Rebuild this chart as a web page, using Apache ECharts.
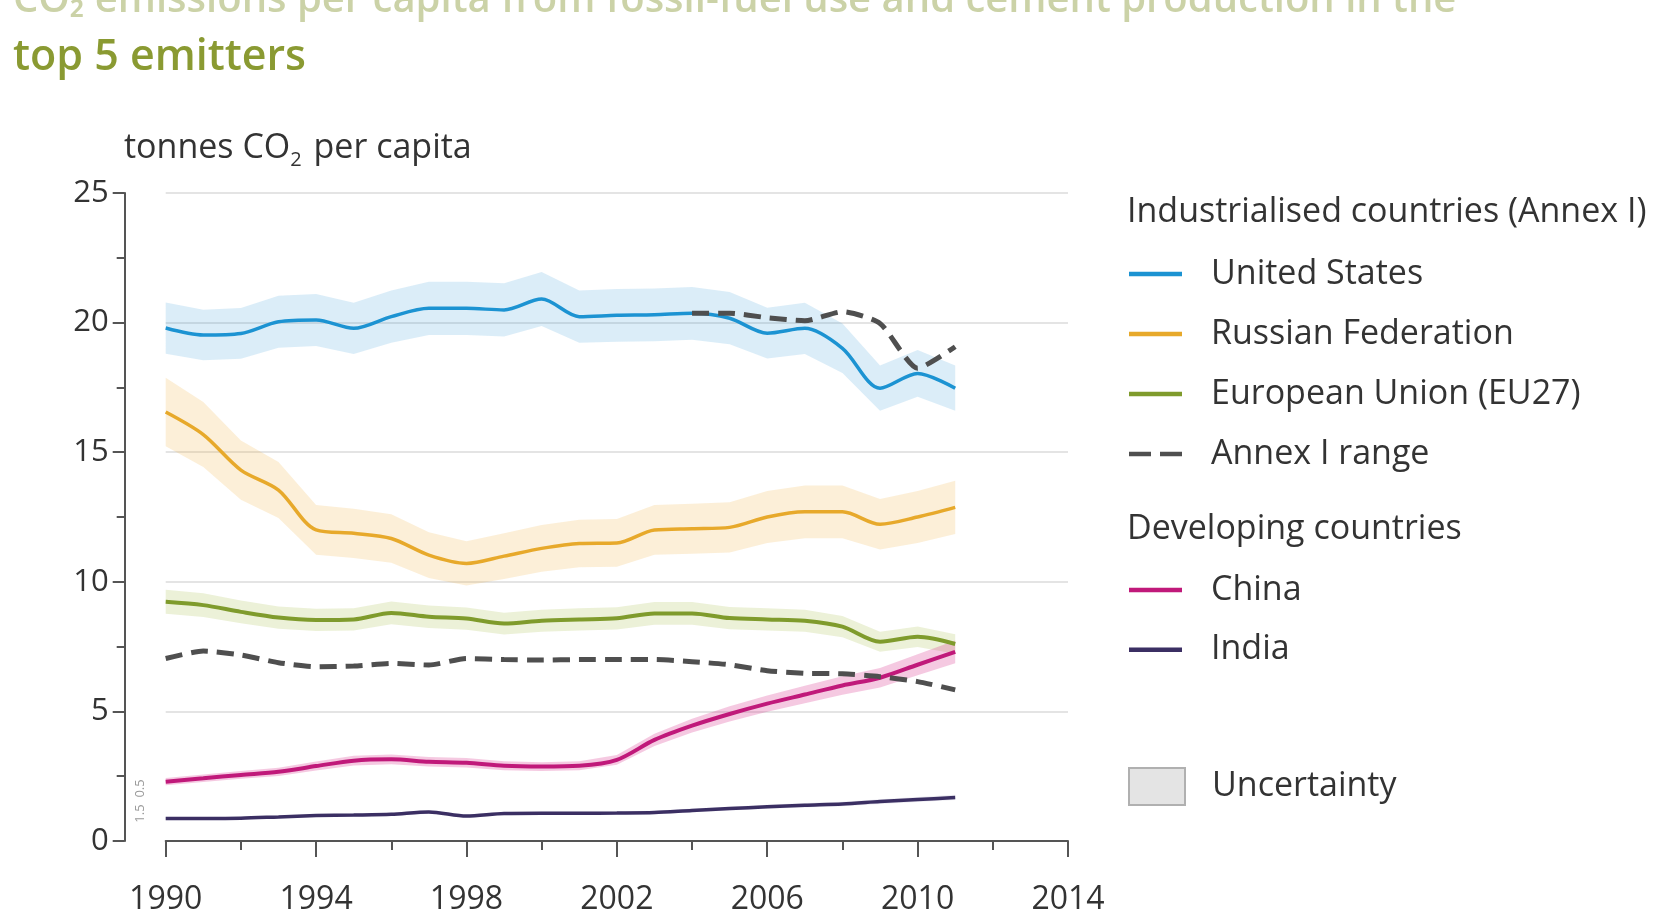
<!DOCTYPE html>
<html><head><meta charset="utf-8">
<script src="https://cdn.jsdelivr.net/npm/echarts@6/dist/echarts.min.js"></script>
<style>html,body{margin:0;padding:0;background:#fff}#c{width:1655px;height:915px}</style>
</head><body><div id="c"></div>
<script>
// ---- data ----
const years = [1990,1991,1992,1993,1994,1995,1996,1997,1998,1999,2000,2001,2002,2003,2004,2005,2006,2007,2008,2009,2010,2011];
const unitedStates = [19.79,19.52,19.58,20.03,20.1,19.78,20.23,20.55,20.55,20.49,20.91,20.23,20.28,20.3,20.36,20.17,19.59,19.78,19.01,17.47,18.04,17.47];
const russia = [16.55,15.68,14.31,13.54,12.0,11.87,11.67,11.03,10.71,10.99,11.29,11.48,11.5,12.0,12.05,12.1,12.5,12.7,12.7,12.22,12.5,12.87];
const eu27 = [9.23,9.1,8.84,8.62,8.53,8.55,8.8,8.65,8.58,8.39,8.5,8.55,8.59,8.78,8.78,8.6,8.55,8.5,8.27,7.69,7.88,7.6];
const china = [2.29,2.42,2.55,2.67,2.89,3.1,3.15,3.06,3.02,2.9,2.87,2.9,3.13,3.9,4.45,4.9,5.3,5.65,6.0,6.3,6.8,7.3];
const india = [0.87,0.87,0.88,0.93,0.98,1.0,1.03,1.12,0.96,1.06,1.07,1.07,1.08,1.1,1.18,1.25,1.32,1.38,1.43,1.52,1.6,1.68];
const annexUpper = [null,null,null,null,null,null,null,null,null,null,null,null,null,null,20.36,20.36,20.19,20.07,20.42,19.97,18.24,19.07];
const annexLower = [7.04,7.33,7.18,6.88,6.72,6.75,6.85,6.79,7.04,7.0,6.98,7.0,7.0,7.0,6.92,6.8,6.57,6.47,6.45,6.34,6.15,5.83];
// relative uncertainty (half width of band) per series
const uncertainty = {us:0.05, russia:0.08, eu:0.05, china:0.06, india:0.06};
const yTicks = [0,5,10,15,20,25];
const xTicks = [1990,1994,1998,2002,2006,2010,2014];

const FONT = '"Open Sans", "Noto Sans", sans-serif';
const pairs = arr => years.map((y,i)=>[y, arr[i]]);

function band(values, pct, color) {
  return {
    type:'custom', silent:true, z:1, data:[[years[0], values[0]]],
    renderItem: function(params, api){
      if (params.dataIndex !== 0) return null;
      const up = years.map((y,i)=>api.coord([y, values[i]*(1+pct)]));
      const lo = years.map((y,i)=>api.coord([y, values[i]*(1-pct)])).reverse();
      return {type:'polygon', shape:{points: up.concat(lo)}, style:{fill: color}};
    }
  };
}
function line(name, values, color, width, extra) {
  return Object.assign({
    type:'line', name:name, data:pairs(values), symbol:'none', smooth:0.3, z:3,
    lineStyle:{color:color, width:width}, itemStyle:{color:color}, connectNulls:false
  }, extra||{});
}
const LTEXT = {fontSize:34, color:'#333', lineHeight:30, padding:[0,0,0,24], fontFamily:FONT};

const chart = echarts.init(document.getElementById('c'), null, {renderer:'canvas'});
chart.setOption({
  animation:false,
  backgroundColor:'#fff',
  textStyle:{fontFamily:FONT},
  grid:{left:165.7, right:587, top:193, bottom:74, containLabel:false, outerBoundsMode:'none'},
  xAxis:{
    type:'value', min:1990, max:2014, interval:4,
    axisLine:{show:true, lineStyle:{color:'#555', width:2}},
    axisTick:{show:true, length:16, lineStyle:{color:'#555', width:2}},
    minorTick:{show:true, splitNumber:2, length:9, lineStyle:{color:'#555', width:2}},
    splitLine:{show:false},
    axisLabel:{margin:43, fontSize:32, color:'#333', fontFamily:FONT,
      formatter: v => xTicks.indexOf(v) >= 0 ? String(v) : ''}
  },
  yAxis:{
    type:'value', min:0, max:25, interval:5, offset:41,
    axisLine:{show:true, lineStyle:{color:'#555', width:2}},
    axisTick:{show:true, length:12, lineStyle:{color:'#555', width:2}},
    minorTick:{show:true, splitNumber:2, length:8, lineStyle:{color:'#555', width:2}},
    splitLine:{show:true, lineStyle:{color:'#e4e4e4', width:2}},
    axisLabel:{margin:16, fontSize:31, color:'#333', fontFamily:FONT,
      formatter: v => yTicks.indexOf(v) >= 0 ? String(v) : ''}
  },
  legend:[
    {orient:'vertical', left:1124, top:252, itemWidth:53, itemHeight:4.5, itemGap:26,
     textStyle:LTEXT,
     data:[{name:'United States', icon:'rect'},{name:'Russian Federation', icon:'rect'},
           {name:'European Union (EU27)', icon:'rect'},
           {name:'Annex I range', icon:'path://M0,0H22V4.5H0Z M31,0H53V4.5H31Z'}]},
    {orient:'vertical', left:1124, top:568, itemWidth:53, itemHeight:4.5, itemGap:25.8,
     textStyle:LTEXT,
     data:[{name:'China', icon:'rect'},{name:'India', icon:'rect'}]},
    {orient:'vertical', left:1123, top:762, itemWidth:56, itemHeight:37,
     textStyle:Object.assign({}, LTEXT, {padding:[0,0,0,22]}),
     data:[{name:'Uncertainty', icon:'rect', itemStyle:{color:'#e4e4e4', borderColor:'#b0b0b0', borderWidth:2}}]}
  ],
  graphic:[
    {type:'text', left:13, top:-19, style:{text:'CO\u2082 emissions per capita from fossil-fuel use and cement production in the', font:'600 40px '+FONT, fill:'#8c9c3c', opacity:0.45}},
    {type:'text', x:13, y:58, style:{text:'top 5 emitters', font:'600 43px '+FONT, fill:'#8a9a32', verticalAlign:'middle'}},
    {type:'text', x:124, y:148, style:{text:'tonnes CO{s|2} per capita', font:'34px '+FONT, fill:'#333', verticalAlign:'middle',
      rich:{s:{fontSize:20, fontFamily:FONT, fill:'#333', padding:[24,3,0,0]}}}},
    {type:'text', x:1127, y:212, style:{text:'Industrialised countries (Annex I)', font:'34px '+FONT, fill:'#333', verticalAlign:'middle'}},
    {type:'text', x:1127, y:529, style:{text:'Developing countries', font:'34px '+FONT, fill:'#333', verticalAlign:'middle'}},
    {type:'text', x:140, y:801, rotation:Math.PI/2, style:{text:'1.5  0.5', font:'13px '+FONT, fill:'#999', align:'center', verticalAlign:'middle'}}
  ],
  series:[
    band(unitedStates, uncertainty.us, 'rgba(40,150,215,0.17)'),
    band(russia, uncertainty.russia, 'rgba(240,170,50,0.19)'),
    band(eu27, uncertainty.eu, 'rgba(160,185,60,0.2)'),
    band(china, uncertainty.china, 'rgba(215,40,135,0.25)'),
    band(india, uncertainty.india, 'rgba(70,55,120,0.1)'),
    {type:'line', name:'Uncertainty', data:[], symbol:'none', itemStyle:{color:'#e4e4e4'}},
    line('United States', unitedStates, '#1c93d2', 3.5),
    line('Russian Federation', russia, '#e7a92b', 3.5),
    line('European Union (EU27)', eu27, '#7f9b2c', 4),
    line('China', china, '#c0197a', 4),
    line('India', india, '#3b2f63', 3.5),
    line('Annex I range', annexUpper, '#4f4f4f', 5, {z:4, smooth:0.2, lineStyle:{color:'#4f4f4f', width:5, type:[17,9]}}),
    line('Annex I range', annexLower, '#4f4f4f', 5, {z:4, smooth:0.2, lineStyle:{color:'#4f4f4f', width:5, type:[17,9]}})
  ]
});
</script></body></html>
